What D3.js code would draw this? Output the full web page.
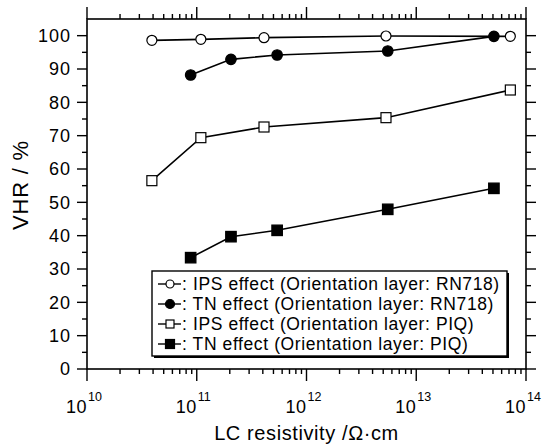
<!DOCTYPE html>
<html>
<head>
<meta charset="utf-8">
<script src="https://cdn.jsdelivr.net/npm/d3@7"></script>
<style>
  body { margin: 0; background: #fff; }
  svg { display: block; }
  text { font-family: "Liberation Sans", Arial, sans-serif; fill: #000; }
</style>
</head>
<body>
<div id="chart"></div>
<script>
// Data
const resIPS = [3.9e10, 1.09e11, 4.1e11, 5.3e12, 7.2e13];
const resTN = [8.8e10, 2.05e11, 5.4e11, 5.5e12, 5.1e13];
const vhrIpsRN = [98.6, 98.9, 99.4, 99.9, 99.8];
const vhrTnRN = [88.2, 92.9, 94.2, 95.4, 99.8];
const vhrIpsPIQ = [56.5, 69.4, 72.6, 75.4, 83.7];
const vhrTnPIQ = [33.4, 39.7, 41.6, 47.9, 54.2];
const seriesNames = [
  "IPS effect (Orientation layer: RN718)",
  "TN effect (Orientation layer: RN718)",
  "IPS effect (Orientation layer: PIQ)",
  "TN effect (Orientation layer: PIQ)"
];
const xExponents = [10, 11, 12, 13, 14];
const yTicks = d3.range(0, 101, 10);

const width = 547, height = 446;
const margin = {left: 87, right: 21, top: 19, bottom: 77};

const series = [
  {name: seriesNames[0], x: resIPS, y: vhrIpsRN, shape: "circle", filled: false},
  {name: seriesNames[1], x: resTN, y: vhrTnRN, shape: "circle", filled: true},
  {name: seriesNames[2], x: resIPS, y: vhrIpsPIQ, shape: "square", filled: false},
  {name: seriesNames[3], x: resTN, y: vhrTnPIQ, shape: "square", filled: true}
];

const svg = d3.select("#chart").append("svg")
  .attr("width", width)
  .attr("height", height);

const xScale = d3.scaleLog()
  .domain([1e10, 1e14])
  .range([margin.left, width - margin.right]);

const yScale = d3.scaleLinear()
  .domain([0, 105])
  .range([height - margin.bottom, margin.top]);

const x0 = margin.left, x1 = width - margin.right;
const y0 = height - margin.bottom, y1 = margin.top;

// minor ticks on the log axis: 2..9 per decade
let minorX = [];
xExponents.slice(0, -1).forEach(e => {
  for (let k = 2; k <= 9; k++) minorX.push(k * Math.pow(10, e));
});
const majorX = xExponents.map(e => Math.pow(10, e));
const minorY = d3.range(5, 100, 10);

// frame
svg.append("rect")
  .attr("x", x0).attr("y", y1)
  .attr("width", x1 - x0).attr("height", y0 - y1)
  .attr("fill", "none").attr("stroke", "#000").attr("stroke-width", 1.6);

const ticks = svg.append("g").attr("stroke", "#000").attr("stroke-width", 1.4);

// bottom & top ticks (outward)
majorX.forEach(v => {
  ticks.append("line").attr("x1", xScale(v)).attr("x2", xScale(v)).attr("y1", y0).attr("y2", y0 + 12);
  ticks.append("line").attr("x1", xScale(v)).attr("x2", xScale(v)).attr("y1", y1).attr("y2", y1 - 12);
});
minorX.forEach(v => {
  ticks.append("line").attr("x1", xScale(v)).attr("x2", xScale(v)).attr("y1", y0).attr("y2", y0 + 5);
  ticks.append("line").attr("x1", xScale(v)).attr("x2", xScale(v)).attr("y1", y1).attr("y2", y1 - 5);
});

// left & right ticks (outward)
yTicks.forEach(v => {
  ticks.append("line").attr("x1", x0).attr("x2", x0 - 10).attr("y1", yScale(v)).attr("y2", yScale(v));
  ticks.append("line").attr("x1", x1).attr("x2", x1 + 10).attr("y1", yScale(v)).attr("y2", yScale(v));
});
minorY.forEach(v => {
  ticks.append("line").attr("x1", x0).attr("x2", x0 - 5).attr("y1", yScale(v)).attr("y2", yScale(v));
  ticks.append("line").attr("x1", x1).attr("x2", x1 + 5).attr("y1", yScale(v)).attr("y2", yScale(v));
});

// y tick labels
svg.append("g").selectAll("text")
  .data(yTicks)
  .enter().append("text")
    .attr("x", x0 - 16)
    .attr("y", d => yScale(d))
    .attr("dy", "0.36em")
    .attr("text-anchor", "end")
    .attr("font-size", "18px")
    .attr("letter-spacing", "1px")
    .text(d => d);

// x tick labels: 10 with superscript exponent
const xl = svg.append("g");
xExponents.forEach(e => {
  const px = xScale(Math.pow(10, e));
  xl.append("text")
    .attr("x", px).attr("y", 413)
    .attr("text-anchor", "end")
    .attr("font-size", "18px")
    .attr("letter-spacing", "0.5px")
    .text("10");
  xl.append("text")
    .attr("x", px + 1).attr("y", 401)
    .attr("text-anchor", "start")
    .attr("font-size", "12.5px")
    .text(e);
});

// axis titles
svg.append("text")
  .attr("x", (x0 + x1) / 2)
  .attr("y", 440)
  .attr("text-anchor", "middle")
  .attr("font-size", "20px")
  .attr("letter-spacing", "0.6px")
  .text("LC resistivity /Ω·cm");

svg.append("text")
  .attr("transform", "translate(28,185) rotate(-90)")
  .attr("text-anchor", "middle")
  .attr("font-size", "22px")
  .attr("letter-spacing", "0.8px")
  .text("VHR / %");

// lines
const line = d3.line()
  .x(d => xScale(d[0]))
  .y(d => yScale(d[1]));

series.forEach(s => {
  const pts = s.x.map((v, i) => [v, s.y[i]]);
  svg.append("path")
    .datum(pts)
    .attr("d", line)
    .attr("fill", "none")
    .attr("stroke", "#000")
    .attr("stroke-width", 1.6);
});

function drawMarker(g, shape, filled, cx, cy, size) {
  if (shape === "circle") {
    g.append("circle")
      .attr("cx", cx).attr("cy", cy).attr("r", size / 2)
      .attr("fill", filled ? "#000" : "#fff")
      .attr("stroke", "#000").attr("stroke-width", 1.2);
  } else {
    g.append("rect")
      .attr("x", cx - size / 2).attr("y", cy - size / 2)
      .attr("width", size).attr("height", size)
      .attr("fill", filled ? "#000" : "#fff")
      .attr("stroke", "#000").attr("stroke-width", 1.2);
  }
}

// markers
series.forEach(s => {
  const g = svg.append("g");
  s.x.forEach((v, i) => {
    drawMarker(g, s.shape, s.filled, xScale(v), yScale(s.y[i]), s.filled ? 10.5 : 10);
  });
});

// legend
const lg = svg.append("g");
lg.append("rect")
  .attr("x", 154).attr("y", 273).attr("width", 355).attr("height", 85)
  .attr("fill", "#000");
lg.append("rect")
  .attr("x", 152).attr("y", 271).attr("width", 355).attr("height", 85)
  .attr("fill", "#fff").attr("stroke", "#000").attr("stroke-width", 1.4);

series.forEach((s, i) => {
  const cy = 284 + i * 20;
  lg.append("line")
    .attr("x1", 158).attr("x2", 181)
    .attr("y1", cy).attr("y2", cy)
    .attr("stroke", "#000").attr("stroke-width", 1.4);
  drawMarker(lg, s.shape, s.filled, 170, cy, s.filled ? 9 : 8);
  lg.append("text")
    .attr("x", 182).attr("y", cy)
    .attr("dy", "0.36em")
    .attr("font-size", "17.5px")
    .attr("letter-spacing", "0.6px")
    .text(": " + s.name);
});
</script>
</body>
</html>
